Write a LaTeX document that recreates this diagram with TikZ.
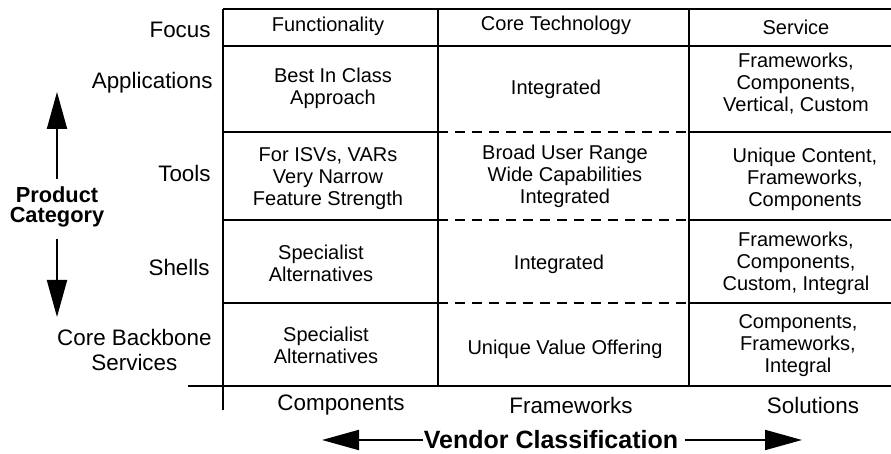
\documentclass[tikz,border=0pt]{standalone}
\usepackage{fontspec}
\setmainfont{Liberation Sans}
\usetikzlibrary{arrows.meta}
\begin{document}
\begin{tikzpicture}[x=0.5pt, y=-0.5pt]
  \tikzset{
    cell/.style={align=center, inner sep=0pt, font=\fontsize{10}{11}\selectfont},
    rowlbl/.style={align=center, inner sep=0pt, anchor=east, font=\fontsize{11.2}{12.4}\selectfont},
    classlbl/.style={inner sep=0pt, font=\fontsize{11.2}{12.4}\selectfont},
    axislbl/.style={align=center, inner sep=0pt, font=\fontsize{10.9}{10.2}\selectfont\bfseries},
    vendorlbl/.style={inner sep=0pt, font=\fontsize{12.5}{13}\selectfont\bfseries},
    gridln/.style={line width=1pt},
    dashln/.style={line width=1pt, dash pattern=on 5pt off 3.5pt},
    bigarrow/.style={line width=1pt, -{Triangle[length=18.5pt, width=10pt]}},
  }
  \useasboundingbox (0,0) rectangle (891,454);
  % Grid
  \draw[gridln] (223,9) -- (891,9);
  \draw[gridln] (223,46) -- (891,46);
  \foreach \y in {132,220,303}{
    \draw[gridln] (223,\y) -- (438,\y);
    \draw[dashln] (438,\y) -- (689,\y);
    \draw[gridln] (689,\y) -- (891,\y);
  }
  \draw[gridln] (188,386) -- (891,386);
  \draw[gridln] (223,9) -- (223,410);
  \draw[gridln] (438,9) -- (438,386);
  \draw[gridln] (689,9) -- (689,386);
  % Row labels (left)
  \node[rowlbl] (focus) at (211,30)  {Focus};
  \node[rowlbl] (apps)  at (213,83)  {Applications};
  \node[rowlbl] (tools) at (211,173) {Tools};
  \node[rowlbl] (shells) at (210,267) {Shells};
  \node[rowlbl] (backbone) at (212,350) {Core Backbone\\Services};
  % Header row
  \node[cell] (hfunc) at (328,26) {Functionality};
  \node[cell] (hcore) at (556,25) {Core Technology};
  \node[cell] (hserv) at (796,27) {Service};
  % Functionality column
  \node[cell] (fapps)  at (333,88)  {Best In Class\\Approach};
  \node[cell] (ftools) at (328,179) {For ISVs, VARs\\Very Narrow\\Feature Strength};
  \node[cell] (fshell) at (321,263) {Specialist\\Alternatives};
  \node[cell] (fcore)  at (326,345) {Specialist\\Alternatives};
  % Core technology column
  \node[cell] (capps)  at (556,89)  {Integrated};
  \node[cell] (ctools) at (565,176) {Broad User Range\\Wide Capabilities\\Integrated};
  \node[cell] (cshell) at (559,264) {Integrated};
  \node[cell] (ccore)  at (565,349) {Unique Value Offering};
  % Service column
  \node[cell] (sapps)  at (796,84)  {Frameworks,\\Components,\\Vertical, Custom};
  \node[cell] (stools) at (805,179) {Unique Content,\\Frameworks,\\Components};
  \node[cell] (sshell) at (796,263) {Frameworks,\\Components,\\Custom, Integral};
  \node[cell] (score)  at (798,346) {Components,\\Frameworks,\\Integral};
  % Vendor classes (bottom)
  \foreach \x/\lbl/\nm in {341/Components/vcomp,571/Frameworks/vframe,813/Solutions/vsol}{
    \node[classlbl] (\nm) at (\x,405) {\lbl};
  }
  % Axes
  \node[axislbl] (prodcat) at (57,207) {Product\\Category};
  \coordinate (uptip) at (57,92);
  \coordinate (downtip) at (57,317);
  \draw[bigarrow] ([yshift=3.5pt]prodcat.north) -- (uptip);
  \draw[bigarrow] ([yshift=-5.5pt]prodcat.south) -- (downtip);
  \node[vendorlbl] (vendor) at (551,440) {Vendor Classification};
  \coordinate (lefttip) at (322,440);
  \coordinate (righttip) at (802,440);
  \draw[bigarrow] (vendor.west) -- (lefttip);
  \draw[bigarrow] ([xshift=3pt]vendor.east) -- (righttip);
\end{tikzpicture}
\end{document}
